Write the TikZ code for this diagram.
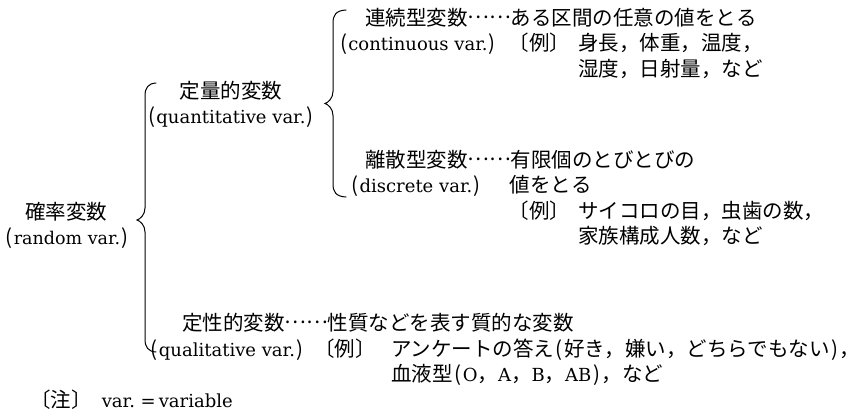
\documentclass[tikz,border=0pt]{standalone}
\usepackage{fontspec}
\newfontfamily\jp{Noto Sans CJK JP}
\newfontfamily\ser{DejaVu Serif}
\newcommand{\La}[1]{{\ser\fontsize{18}{22}\selectfont #1}}
\newcommand{\Lp}[1]{\makebox[0.45em][c]{(}\La{#1}\makebox[0.45em][c]{)}}
\newcommand{\dt}{\raisebox{0.32em}{……}}
\newcommand{\hop}{\makebox[0.5em]{(}}
\newcommand{\hcl}{\makebox[0.5em]{)}}
\newcommand{\lbr}[6]{% #1 xline, #2 top, #3 bottom, #4 mid, #5 cusp x, #6 hook x
 \draw[brace] (#6,#2) .. controls ({#1+3},{#2+0.5}) and (#1,{#2+5}) .. (#1,{#2+13}) -- (#1,{#4-12}) .. controls (#1,{#4-5}) and ({#5+3},{#4-1}) .. (#5,#4) .. controls ({#5+3},{#4+1}) and (#1,{#4+5}) .. (#1,{#4+12}) -- (#1,{#3-13}) .. controls (#1,{#3-5}) and ({#1+3},{#3-0.5}) .. (#6,#3);}
\begin{document}
\begin{tikzpicture}[x=1pt,y=-1pt,
  txt/.style={inner sep=0pt, outer sep=0pt, font=\jp\fontsize{20.5}{24}\selectfont, anchor=base west},
  ctr/.style={txt, anchor=base},
  rgt/.style={txt, anchor=base east},
  brace/.style={line width=1pt, line cap=round}]
\useasboundingbox (0,0) rectangle (861,417);
% root
\node[ctr] (rv) at (66,219) {確率変数};
\node[ctr] (rve) at (67,244) {\makebox[0.45em][c]{(}{\ser\fontsize{17.5}{21}\selectfont random var.}\makebox[0.45em][c]{)}};
% quantitative
\node[ctr] (qn) at (231,98.5) {定量的変数};
\node[ctr] (qne) at (231,124) {\Lp{quantitative var.}};
% continuous
\node[txt] (cn) at (365,25.5) {連続型変数\dt ある区間の任意の値をとる};
\node[ctr] (cne) at (418,51) {\Lp{continuous var.}};
\node[txt] (cex) at (508.5,51) {〔例〕};
\node[txt] (cex1) at (578,51) {身長，体重，温度，};
\node[txt] (cex2) at (578,77) {湿度，日射量，など};
% discrete
\node[txt] (dn) at (365,167.5) {離散型変数\dt 有限個のとびとびの};
\node[ctr] (dne) at (416,192.5) {\Lp{discrete var.}};
\node[txt] (dv) at (509.5,192.5) {値をとる};
\node[txt] (dex) at (508.5,218) {〔例〕};
\node[txt] (dex1) at (578,218) {サイコロの目，虫歯の数，};
\node[txt] (dex2) at (578,243.5) {家族構成人数，など};
% qualitative
\node[ctr] (lne) at (227,356) {\Lp{qualitative var.}};
\node[txt] (ln) at (182,330.5) {定性的変数\dt 性質などを表す質的な変数};
\node[txt] (lex) at (314,356) {〔例〕};
\node[txt] (lex1) at (391,356) {アンケートの答え\hop 好き，嫌い，どちらでもない\hcl\makebox[0.5em][l]{，}};
\node[txt] (lex2) at (391,381) {血液型\hop\La{O}，\La{A}，\La{B}，\La{AB}\hcl，など};
% note
\node[txt] (note) at (30,407.5) {〔注〕\hspace{0.5em}\La{var.\ =\,variable}};
% braces
\lbr{145}{83}{352}{220}{137}{156}
\lbr{333}{10}{197}{103.5}{325}{346}
\end{tikzpicture}
\end{document}
